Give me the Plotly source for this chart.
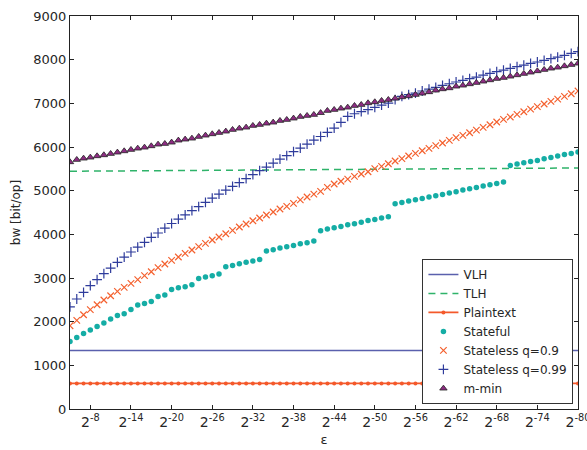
import plotly.graph_objects as go

# exponent k, epsilon = 2^-k
n = list(range(5, 81))

vlh_n = [5, 80]
vlh = [1340, 1340]

tlh_n = [5, 42, 80]
tlh = [5445, 5483, 5520]

plaintext = [585, 585, 585, 585, 585, 585, 585, 585, 585, 585, 585, 585, 585, 585, 585, 585,
             585, 585, 585, 585, 585, 585, 585, 585, 585, 585, 585, 585, 585, 585, 585, 585,
             585, 585, 585, 585, 585, 585, 585, 585, 585, 585, 585, 585, 585, 585, 585, 585,
             585, 585, 585, 585, 585, 585, 585, 585, 585, 585, 585, 585, 585, 585, 585, 585,
             585, 585, 585, 585, 585, 585, 585, 585, 585, 585, 585, 585]

stateful = [1548, 1640, 1731, 1809, 1892, 1969, 2061, 2143, 2182, 2281, 2381, 2418, 2464, 2579,
            2610, 2739, 2778, 2801, 2846, 2991, 3023, 3053, 3091, 3259, 3289, 3327, 3358, 3389,
            3426, 3618, 3648, 3687, 3717, 3747, 3786, 3809, 3847, 4083,
            4122, 4152, 4182, 4220, 4243, 4274, 4319, 4342, 4374, 4404,
            4701, 4731, 4763, 4793, 4823, 4855, 4885, 4914, 4946, 4976, 5015, 5045, 5075, 5107,
            5136, 5166, 5198,
            5578, 5610, 5640, 5670, 5693, 5732, 5762, 5794, 5830, 5853, 5885]

stateless_09 = [1907, 2029, 2159, 2274, 2388, 2496, 2594, 2693, 2785, 2876, 2961, 3053, 3144,
                3236, 3320, 3403, 3481, 3563, 3641, 3717, 3792, 3870, 3939, 4014, 4090, 4168,
                4237, 4312, 4374, 4443, 4511, 4580, 4640, 4708, 4790, 4855, 4920, 4985,
                5075, 5152, 5215, 5266, 5327, 5381, 5434, 5503, 5556, 5617, 5679, 5732, 5793,
                5854, 5915, 5968, 6030, 6091, 6152, 6213, 6266, 6327, 6388, 6449, 6510, 6572,
                6633, 6686, 6747, 6808, 6869, 6923, 6984, 7045, 7098, 7159, 7220, 7282]

stateless_099 = [2340, 2519, 2671, 2824, 2961, 3098, 3228, 3358, 3480, 3595, 3709, 3816, 3930,
                 4030, 4140, 4248, 4347, 4446, 4541, 4636, 4732,
                 4831, 4923, 5014, 5098, 5182, 5274, 5366, 5457, 5541, 5633, 5724, 5801, 5892,
                 5976, 6068, 6159, 6240,
                 6335, 6434, 6564, 6701, 6762, 6808, 6854, 6907, 6961, 7007, 7083, 7159, 7198,
                 7236, 7282, 7327, 7365, 7411, 7449, 7488, 7526, 7564, 7602, 7648, 7686, 7724,
                 7762, 7800, 7839, 7877, 7915, 7946, 7984, 8022, 8060, 8098, 8144, 8182]

m_min = [5656, 5709, 5739, 5762, 5793, 5816, 5846, 5877, 5907, 5938, 5968, 5991, 6022, 6060,
         6075, 6106, 6152, 6175, 6197, 6236, 6266, 6297, 6327, 6358, 6396, 6426, 6449, 6488,
         6511, 6541, 6564, 6602, 6625, 6656, 6694, 6717, 6740, 6782,
         6831, 6854, 6884, 6907, 6945, 6968, 7007, 7030, 7060, 7083, 7113, 7144, 7167, 7198,
         7228, 7259, 7297, 7327, 7350, 7388, 7411, 7442, 7472, 7503, 7533, 7564, 7587, 7617,
         7648, 7679, 7709, 7740, 7770, 7800, 7823, 7854, 7884, 7915]

tick_exps = [8, 14, 20, 26, 32, 38, 44, 50, 56, 62, 68, 74, 80]
tick_text = ["2<sup>-%d</sup>" % k for k in tick_exps]
y_ticks = [0, 1000, 2000, 3000, 4000, 5000, 6000, 7000, 8000, 9000]

FONT = "DejaVu Sans"
fig = go.Figure()

fig.add_trace(go.Scatter(x=vlh_n, y=vlh, mode="lines", name="VLH",
                         line=dict(color="#5a60ad", width=1.5)))
fig.add_trace(go.Scatter(x=tlh_n, y=tlh, mode="lines", name="TLH",
                         line=dict(color="#2fb36a", width=1.5, dash="7px,5px")))
fig.add_trace(go.Scatter(x=n, y=plaintext, mode="lines+markers", name="Plaintext",
                         line=dict(color="#f4592b", width=1.8),
                         marker=dict(color="#f4592b", size=4, symbol="circle")))
fig.add_trace(go.Scatter(x=n, y=stateful, mode="markers", name="Stateful",
                         marker=dict(color="#15ada5", size=5.5, symbol="circle")))
fig.add_trace(go.Scatter(x=n, y=stateless_09, mode="markers", name="Stateless q=0.9",
                         marker=dict(color="#f4612f", size=6.5, symbol="x-thin",
                                     line=dict(color="#f4612f", width=1.2))))
fig.add_trace(go.Scatter(x=n, y=stateless_099, mode="markers", name="Stateless q=0.99",
                         marker=dict(color="#2f3c9c", size=7, symbol="cross-thin",
                                     line=dict(color="#2f3c9c", width=1.2))))
fig.add_trace(go.Scatter(x=n, y=m_min, mode="markers", name="m-min",
                         marker=dict(color="#8e2c83", size=6.5, symbol="triangle-up",
                                     line=dict(color="#222222", width=0.8))))

axis_common = dict(showline=True, linecolor="#222222", linewidth=1, mirror="ticks",
                   ticks="inside", ticklen=4, tickwidth=1, tickcolor="#222222",
                   showgrid=False, zeroline=False, automargin=False)

fig.update_layout(
    width=587, height=450,
    margin=dict(l=70, r=9, t=16, b=41),
    paper_bgcolor="white", plot_bgcolor="white",
    font=dict(family=FONT, size=13, color="#262626"),
    xaxis=dict(range=[5, 80], tickmode="array", tickvals=tick_exps, ticktext=tick_text,
               tickfont=dict(size=14), ticklabeloverflow="allow",
               title=dict(text="ε", font=dict(size=13), standoff=6),
               **axis_common),
    yaxis=dict(range=[0, 9000], tickmode="array", tickvals=y_ticks,
               tickfont=dict(size=13), ticklabeloverflow="allow",
               title=dict(text="bw [bit/op]", font=dict(size=12), standoff=10),
               **axis_common),
    legend=dict(x=0.991, y=0.013, xanchor="right", yanchor="bottom",
                bgcolor="white", bordercolor="#333333", borderwidth=1,
                font=dict(size=12), tracegroupgap=0, itemwidth=30),
    showlegend=True,
)

fig.write_html("out.html", config={"displayModeBar": False},
               post_script="document.body.style.margin='0';document.body.style.overflow='hidden';")
